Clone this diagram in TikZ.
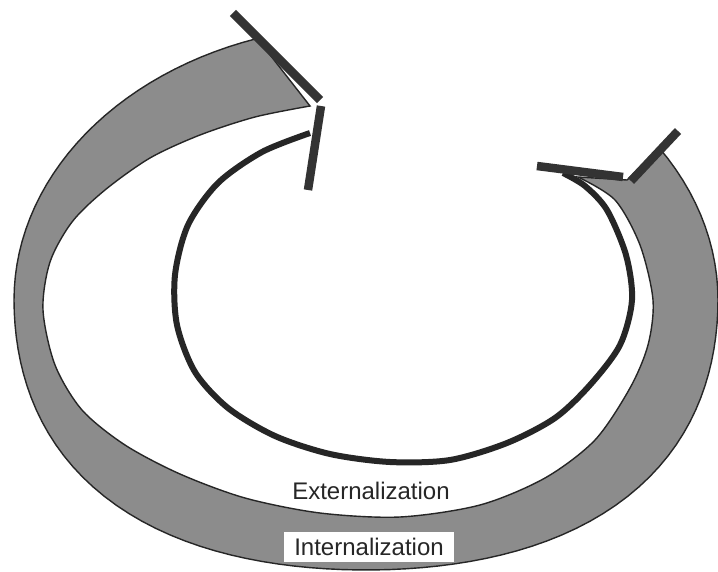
\documentclass[tikz,border=0pt]{standalone}
\usepackage{fontspec}
\setsansfont{Liberation Sans}

\begin{document}
\begin{tikzpicture}[
        x=1pt, y=-1pt,
        font=\sffamily\fontsize{24}{28}\selectfont,
        % Styles
        band/.style={fill=black!45, draw=black!85, line width=1.4pt},
        loopline/.style={draw=black!85, line width=6pt},
        barb/.style={draw=black!80, line width=8.5pt},
        cycletext/.style={inner sep=0pt, text=black!85},
        boxtext/.style={cycletext, fill=white, inner xsep=10pt, minimum height=30pt}
    ]

    \useasboundingbox[fill=white] (0,0) rectangle (718,572);

    % ==============================
    % 1. ARROW HEAD POINTS
    % ==============================
    \coordinate (tl_a) at (233,13);
    \coordinate (tl_b) at (320,100);
    \coordinate (tl_c) at (321,106);
    \coordinate (tl_d) at (308,190);
    \coordinate (rt_a) at (537,166);
    \coordinate (rt_b) at (623,177);
    \coordinate (rt_c) at (631,181);
    \coordinate (rt_d) at (678,131);

    % ==============================
    % 2. OUTER BAND (Internalization)
    % ==============================
    \filldraw[band]
        plot[domain=108:180, samples=30] ({366+352*cos(\x)}, {300-275*sin(\x)})
        -- plot[domain=180:360, samples=70]
            ({366+352*cos(\x)*(1+0.04*sin(2*\x)*sin(2*\x))},
             {300-270*sin(\x)*(1+0.04*sin(2*\x)*sin(2*\x))})
        -- plot[domain=360:393.5, samples=14] ({366+352*cos(\x)}, {300-275*sin(\x)})
        -- (627,180)
        -- plot[smooth] coordinates {(578,177) (615,200) (640,245) (653,300)
            (648,345) (630,388) (595,440) (545,478) (480,505) (400,517)
            (320,513) (245,498) (180,474) (125,445) (82,410) (55,365)
            (43,310) (50,262) (72,222) (105,190) (150,158) (200,135)
            (255,117) (310,106)}
        -- cycle;

    % ==============================
    % 3. INNER LOOP (Externalization)
    % ==============================
    \draw[loopline] plot[smooth] coordinates {(310,133) (262,152) (218,183)
        (188,225) (175,275) (177,325) (195,372) (228,408) (275,436)
        (330,454) (390,462) (450,460) (507,443) (555,418) (590,385)
        (620,345) (632,300) (626,255) (607,210) (585,186) (563,173)};

    % ==============================
    % 4. ARROW HEADS
    % ==============================
    \draw[barb] (tl_a) -- (tl_b);
    \draw[barb] (tl_c) -- (tl_d);
    \draw[barb] (rt_a) -- (rt_b);
    \draw[barb] (rt_c) -- (rt_d);

    % ==============================
    % 5. LABELS
    % ==============================
    \node[cycletext] (ext_label) at (371,491) {Externalization};
    \node[boxtext] (int_label) at (369,547) {Internalization};

\end{tikzpicture}
\end{document}
